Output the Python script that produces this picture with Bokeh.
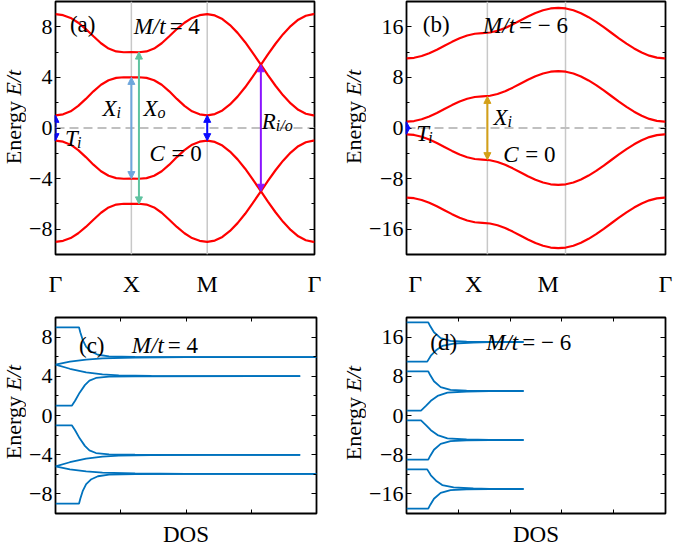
import math
from bokeh.plotting import figure
from bokeh.models import (Range1d, LinearAxis, FixedTicker, SingleIntervalTicker,
                          CustomJSTickFormatter, Span, Arrow, NormalHead, Label)
from bokeh.layouts import column, row
from bokeh.embed import file_html
from bokeh.resources import INLINE

FONT = "Liberation Serif"

# ------------------------------------------------------------------ data
# k-path coordinate: Gamma=0, X=1, M=2, Gamma=2+sqrt(2)
k_path = [0.0, 0.1, 0.2, 0.3, 0.4, 0.5, 0.6, 0.7, 0.8, 0.9, 1.0,
          1.1, 1.2, 1.3, 1.4, 1.5, 1.6, 1.7, 1.8, 1.9, 2.0,
          2.1, 2.2, 2.3, 2.4, 2.5, 2.6, 2.7, 2.8, 2.9, 3.0, 3.1, 3.2, 3.3, 3.4, 3.414]
k_labels = ["Γ", "X", "M", "Γ"]
a_label_pos = [0.0, 1.0, 2.0, 3.414]
b_label_pos = [0.116, 0.884, 1.868, 3.414]
a_sym_lines = [1.0, 2.0]
b_sym_lines = [1.066, 2.096]

# (a) M/t = 4 bands
a_band1 = [9.0, 8.92, 8.70, 8.32, 7.82, 7.25, 6.70, 6.28, 6.05, 5.99, 6.0,
           5.99, 6.05, 6.28, 6.70, 7.25, 7.82, 8.32, 8.70, 8.92, 9.0,
           8.90, 8.61, 8.14, 7.52, 6.78, 5.94, 5.06, 4.18, 3.34, 2.58, 1.94, 1.44, 1.13, 1.0, 1.0]
a_band2 = [1.0, 1.08, 1.32, 1.75, 2.30, 2.90, 3.42, 3.78, 3.96, 4.01, 4.0,
           4.01, 3.96, 3.78, 3.42, 2.90, 2.30, 1.75, 1.32, 1.08, 1.0,
           1.10, 1.39, 1.86, 2.48, 3.22, 4.06, 4.94, 5.82, 6.66, 7.42, 8.06, 8.56, 8.87, 9.0, 9.0]
a_band3 = [-1.0, -1.08, -1.32, -1.75, -2.30, -2.90, -3.42, -3.78, -3.96, -4.01, -4.0,
           -4.01, -3.96, -3.78, -3.42, -2.90, -2.30, -1.75, -1.32, -1.08, -1.0,
           -1.10, -1.39, -1.86, -2.48, -3.22, -4.06, -4.94, -5.82, -6.66, -7.42, -8.06, -8.56, -8.87, -9.0, -9.0]
a_band4 = [-9.0, -8.92, -8.70, -8.32, -7.82, -7.25, -6.70, -6.28, -6.05, -5.99, -6.0,
           -5.99, -6.05, -6.28, -6.70, -7.25, -7.82, -8.32, -8.70, -8.92, -9.0,
           -8.90, -8.61, -8.14, -7.52, -6.78, -5.94, -5.06, -4.18, -3.34, -2.58, -1.94, -1.44, -1.13, -1.0, -1.0]

# (b) M/t = -6 bands
b_band1 = [11.0, 11.10, 11.38, 11.82, 12.38, 13.0, 13.62, 14.18, 14.62, 14.90, 15.0,
           15.10, 15.38, 15.82, 16.38, 17.0, 17.62, 18.18, 18.62, 18.90, 19.0,
           18.90, 18.61, 18.14, 17.52, 16.78, 15.94, 15.06, 14.18, 13.34, 12.58, 11.94, 11.44, 11.13, 11.0, 11.0]
b_band2 = [1.0, 1.10, 1.38, 1.82, 2.38, 3.0, 3.62, 4.18, 4.62, 4.90, 5.0,
           5.10, 5.38, 5.82, 6.38, 7.0, 7.62, 8.18, 8.62, 8.90, 9.0,
           8.90, 8.61, 8.14, 7.52, 6.78, 5.94, 5.06, 4.18, 3.34, 2.58, 1.94, 1.44, 1.13, 1.0, 1.0]
b_band3 = [-1.0, -1.10, -1.38, -1.82, -2.38, -3.0, -3.62, -4.18, -4.62, -4.90, -5.0,
           -5.10, -5.38, -5.82, -6.38, -7.0, -7.62, -8.18, -8.62, -8.90, -9.0,
           -8.90, -8.61, -8.14, -7.52, -6.78, -5.94, -5.06, -4.18, -3.34, -2.58, -1.94, -1.44, -1.13, -1.0, -1.0]
b_band4 = [-11.0, -11.10, -11.38, -11.82, -12.38, -13.0, -13.62, -14.18, -14.62, -14.90, -15.0,
           -15.10, -15.38, -15.82, -16.38, -17.0, -17.62, -18.18, -18.62, -18.90, -19.0,
           -18.90, -18.61, -18.14, -17.52, -16.78, -15.94, -15.06, -14.18, -13.34, -12.58, -11.94, -11.44, -11.13, -11.0, -11.0]

# transition arrows: position on k-path and half-height (energy)
a_arrow_x = [0.0, 2.0, 1.0, 1.1, 2.707]
a_arrow_half = [1.0, 1.0, 4.0, 6.0, 5.0]
b_arrow_x = [0.0, 1.066]
b_arrow_half = [1.0, 5.0]

# (c) DOS, M/t = 4
c_x1 = [0, 0.36, 0.38, 0.42, 0.47, 0.55, 0.65, 0.82, 1.22, 2.0, 4.0]
c_e1 = [9.0, 9.0, 8.5, 7.66, 7.0, 6.5, 6.2, 6.03, 5.97, 5.95, 5.95]
c_x2 = [0, 0.22, 0.47, 0.72, 1.22, 2.0, 4.0]
c_e2 = [5.2, 5.5, 5.7, 5.82, 5.92, 5.95, 5.95]
c_x3 = [0, 0.22, 0.47, 0.72, 0.97, 1.47, 2.5, 3.75]
c_e3 = [5.2, 4.77, 4.4, 4.2, 4.1, 4.04, 4.02, 4.02]
c_x4 = [0, 0.25, 0.30, 0.37, 0.45, 0.52, 0.62, 0.82, 1.22, 3.75]
c_e4 = [1.0, 1.0, 1.5, 2.33, 3.1, 3.56, 3.83, 3.96, 4.0, 4.02]
c_e5 = [-1.0, -1.0, -1.5, -2.33, -3.1, -3.56, -3.83, -3.96, -4.0, -4.02]
c_e6 = [-5.2, -4.77, -4.4, -4.2, -4.1, -4.04, -4.02, -4.02]
c_e7 = [-5.2, -5.5, -5.7, -5.82, -5.92, -5.95, -5.95]
c_e8 = [-9.0, -9.0, -8.5, -7.66, -7.0, -6.5, -6.2, -6.03, -5.97, -5.95, -5.95]
c_ticks = [1, 2, 3]

# (d) DOS, M/t = -6
d_x1 = [0, 0.42, 0.46, 0.53, 0.66, 0.85, 1.16, 1.6, 2.26]
d_e1 = [19, 19, 18.2, 17.0, 15.8, 15.25, 15.05, 15.0, 15.0]
d_x2 = [0, 0.40, 0.47, 0.57, 0.69, 0.91, 1.29, 1.6, 2.26]
d_e2 = [11, 11, 12.2, 13.3, 14.2, 14.66, 14.9, 14.97, 15.0]
d_e3 = [9, 9, 8.2, 7.0, 5.8, 5.25, 5.05, 5.0, 5.0]
d_x4 = [0, 0.28, 0.38, 0.47, 0.60, 0.79, 1.16, 1.6, 2.26]
d_e4 = [1, 1, 2.0, 3.0, 4.0, 4.66, 4.9, 4.98, 5.0]
d_e5 = [-1, -1, -2.0, -3.0, -4.0, -4.66, -4.9, -4.98, -5.0]
d_e6 = [-9, -9, -8.2, -7.0, -5.8, -5.25, -5.05, -5.0, -5.0]
d_e7 = [-11, -11, -12.2, -13.3, -14.2, -14.66, -14.9, -14.97, -15.0]
d_e8 = [-19, -19, -18.2, -17.0, -15.8, -15.25, -15.05, -15.0, -15.0]
d_ticks = [1, 2, 3, 4]

# ------------------------------------------------------------------ styles
BAND_RED = "#ff0000"
DOS_BLUE = "#0072bd"
LINE_GREY = "#c8c8c8"
DASH_GREY = "#c0c0c0"
a_arrow_colors = ["#0a0aff", "#0a0aff", "#6ea6dc", "#5fc3a0", "#8a14ff"]
b_arrow_colors = ["#0a0aff", "#d4a017"]
TXT = "23px"
TICK = "22px"
SUB = "16px"

MINUS_FMT = "return tick < 0 ? '\u2212' + Math.abs(tick) : String(tick);"
K_FMT = ("let i = 0; let best = 1e9;"
         "for (let j = 0; j < pos.length; j++) { const d = Math.abs(pos[j] - tick);"
         " if (d < best) { best = d; i = j; } } return labels[i];")
EMPTY_FMT = "return '';"


def make_fig(xr, yr, fw, fh, bl, br, bt, bb):
    p = figure(x_range=Range1d(*xr), y_range=Range1d(*yr), frame_width=fw, frame_height=fh,
               x_axis_type=None, y_axis_type=None, output_backend="svg", toolbar_location=None,
               min_border_left=bl, min_border_right=br, min_border_top=bt, min_border_bottom=bb)
    p.outline_line_color = "black"
    p.outline_line_width = 1.8
    p.outline_line_alpha = 1.0
    p.background_fill_color = "white"
    p.border_fill_color = "white"
    return p


def tick_style(ax):
    ax.axis_line_color = None
    ax.major_tick_in = 5
    ax.major_tick_out = 0
    ax.minor_tick_in = 3
    ax.minor_tick_out = 0
    ax.major_tick_line_color = "black"
    ax.minor_tick_line_color = "black"
    ax.major_label_text_font = FONT
    ax.major_label_text_font_size = TICK
    ax.major_label_text_color = "black"


def hide_labels(ax):
    ax.formatter = CustomJSTickFormatter(code=EMPTY_FMT)
    ax.major_label_text_color = None
    ax.major_label_text_font_size = "1px"
    ax.major_label_standoff = 0


def y_axes(p, interval):
    left = LinearAxis(ticker=SingleIntervalTicker(interval=interval, num_minor_ticks=2))
    tick_style(left)
    left.formatter = CustomJSTickFormatter(code=MINUS_FMT)
    left.major_label_standoff = 3
    p.add_layout(left, "left")
    right = LinearAxis(ticker=SingleIntervalTicker(interval=interval, num_minor_ticks=2))
    tick_style(right)
    hide_labels(right)
    p.add_layout(right, "right")


def k_axis(p, pos):
    ax = LinearAxis(ticker=FixedTicker(ticks=pos, minor_ticks=[]))
    ax.formatter = CustomJSTickFormatter(args=dict(pos=pos, labels=k_labels), code=K_FMT)
    ax.axis_line_color = None
    ax.major_tick_line_color = None
    ax.minor_tick_line_color = None
    ax.major_label_text_font = FONT
    ax.major_label_text_font_size = "24px"
    ax.major_label_text_color = "black"
    ax.major_label_standoff = 10
    p.add_layout(ax, "below")


def dos_axes(p, ticks):
    for side in ("below", "above"):
        ax = LinearAxis(ticker=FixedTicker(ticks=ticks, minor_ticks=[]))
        tick_style(ax)
        ax.major_tick_in = 4
        hide_labels(ax)
        if side == "below":
            ax.axis_label = "DOS"
            ax.axis_label_text_font = FONT
            ax.axis_label_text_font_style = "normal"
            ax.axis_label_text_font_size = TXT
            ax.axis_label_text_color = "black"
            ax.axis_label_standoff = 8
        p.add_layout(ax, side)


def lab(p, x, y, text, style="normal", size=TXT, dx=0, dy=0):
    p.add_layout(Label(x=x, y=y, x_offset=dx, y_offset=dy, text=text, text_font=FONT,
                       text_font_style=style, text_font_size=size, text_color="black",
                       text_baseline="alphabetic", text_align="left"))


def energy_fig(width, yr, fh, bt, bb, x_mid, yc, size=22):
    p = figure(x_range=Range1d(0, width), y_range=Range1d(*yr), frame_width=width,
               frame_height=fh, x_axis_type=None, y_axis_type=None, output_backend="svg",
               toolbar_location=None, min_border_left=0, min_border_right=0,
               min_border_top=bt, min_border_bottom=bb)
    p.outline_line_color = None
    p.background_fill_color = "white"
    p.border_fill_color = "white"
    w_energy = 2.888 * size
    w_space = 0.25 * size
    w_et = 1.167 * size
    total = w_energy + w_space + w_et
    junction = -total / 2 + w_energy
    common = dict(x=x_mid, y=yc, angle=math.pi / 2, text_font=FONT,
                  text_font_size=f"{size}px", text_color="black", text_baseline="middle")
    p.add_layout(Label(text="Energy", y_offset=junction, text_align="right",
                       text_font_style="normal", **common))
    p.add_layout(Label(text="E/t", y_offset=junction + w_space, text_align="left",
                       text_font_style="italic", **common))
    return p


def vlines(p, xs):
    for xv in xs:
        p.add_layout(Span(location=xv, dimension="height", line_color=LINE_GREY,
                          line_width=1.5, level="underlay"))


def zero_line(p):
    p.add_layout(Span(location=0, dimension="width", line_color=DASH_GREY,
                      line_width=2.2, line_dash="9 5", level="underlay"))


def darrow(p, x, half, color, lw=2.0, size=7):
    p.add_layout(Arrow(x_start=x, y_start=-half, x_end=x, y_end=half,
                       line_color=color, line_width=lw,
                       start=NormalHead(size=size, fill_color=color, line_color=color),
                       end=NormalHead(size=size, fill_color=color, line_color=color)))


TOP_FH, TOP_T, TOP_B = 253, 1, 38
BOT_FH, BOT_T, BOT_B = 196, 18, 30
LW = 26   # width of the strips holding the rotated axis titles

# ------------------------------------------------------------------ (a)
fa = make_fig((0, k_path[-1]), (-10, 10), 259, TOP_FH, 26, 26, TOP_T, TOP_B)
y_axes(fa, 4)
k_axis(fa, a_label_pos)
vlines(fa, a_sym_lines)
zero_line(fa)
for band in (a_band1, a_band2, a_band3, a_band4):
    fa.line(k_path, band, line_color=BAND_RED, line_width=2.2)
for xv, hv, col in zip(a_arrow_x, a_arrow_half, a_arrow_colors):
    darrow(fa, xv, hv, col)
lab(fa, 0.19, 8.15, "(a)")
lab(fa, 1.03, 8.0, "M/t", "italic")
lab(fa, 1.03, 8.0, "= 4", dx=36)
lab(fa, 0.62, 1.53, "X", "italic")
lab(fa, 0.62, 1.53, "i", "italic", SUB, dx=14, dy=-4)
lab(fa, 1.16, 1.53, "X", "italic")
lab(fa, 1.16, 1.53, "o", "italic", SUB, dx=14, dy=-4)
lab(fa, 0.125, -0.82, "T", "italic")
lab(fa, 0.125, -0.82, "i", "italic", SUB, dx=12, dy=-4)
lab(fa, 1.24, -2.0, "C", "italic")
lab(fa, 1.24, -2.0, "= 0", dx=22)
lab(fa, 2.72, 0.54, "R", "italic")
lab(fa, 2.72, 0.54, "i/o", "italic", SUB, dx=14, dy=-4)
ea = energy_fig(LW, (-10, 10), TOP_FH, TOP_T, TOP_B, 13, 0.85)

# ------------------------------------------------------------------ (b)
fb = make_fig((0, k_path[-1]), (-20, 20), 259, TOP_FH, 38, 12, TOP_T, TOP_B)
y_axes(fb, 8)
k_axis(fb, b_label_pos)
vlines(fb, b_sym_lines)
zero_line(fb)
for band in (b_band1, b_band2, b_band3, b_band4):
    fb.line(k_path, band, line_color=BAND_RED, line_width=2.2)
for xv, hv, col in zip(b_arrow_x, b_arrow_half, b_arrow_colors):
    darrow(fb, xv, hv, col)
lab(fb, 0.215, 16.4, "(b)")
lab(fb, 1.01, 16.25, "M/t", "italic")
lab(fb, 1.01, 16.25, "= − 6", dx=36)
lab(fb, 1.147, 1.6, "X", "italic")
lab(fb, 1.147, 1.6, "i", "italic", SUB, dx=14, dy=-4)
lab(fb, 0.129, -0.9, "T", "italic")
lab(fb, 0.129, -0.9, "i", "italic", SUB, dx=12, dy=-4)
lab(fb, 1.275, -4.2, "C", "italic")
lab(fb, 1.275, -4.2, "= 0", dx=22)
eb = energy_fig(LW, (-20, 20), TOP_FH, TOP_T, TOP_B, 13, 1.73)

# ------------------------------------------------------------------ (c)
fc = make_fig((0, 4), (-10, 10), 261, BOT_FH, 26, 24, BOT_T, BOT_B)
y_axes(fc, 4)
dos_axes(fc, c_ticks)
for xs, es in ((c_x1, c_e1), (c_x2, c_e2), (c_x3, c_e3), (c_x4, c_e4),
               (c_x4, c_e5), (c_x3, c_e6), (c_x2, c_e7), (c_x1, c_e8)):
    fc.line(xs, es, line_color=DOS_BLUE, line_width=1.8)
lab(fc, 0.36, 7.16, "(c)")
lab(fc, 1.17, 7.16, "M/t", "italic")
lab(fc, 1.17, 7.16, "= 4", dx=36)
ec = energy_fig(LW, (-10, 10), BOT_FH, BOT_T, BOT_B, 13, 0.33)

# ------------------------------------------------------------------ (d)
fd = make_fig((0, 5), (-20, 20), 259, BOT_FH, 38, 12, BOT_T, BOT_B)
y_axes(fd, 8)
dos_axes(fd, d_ticks)
for xs, es in ((d_x1, d_e1), (d_x2, d_e2), (d_x1, d_e3), (d_x4, d_e4),
               (d_x4, d_e5), (d_x1, d_e6), (d_x2, d_e7), (d_x1, d_e8)):
    fd.line(xs, es, line_color=DOS_BLUE, line_width=1.8)
lab(fd, 0.46, 14.86, "(d)")
lab(fd, 1.54, 14.9, "M/t", "italic")
lab(fd, 1.54, 14.9, "= − 6", dx=36)
ed = energy_fig(LW, (-20, 20), BOT_FH, BOT_T, BOT_B, 13, 0.46)

layout = column(row(ea, fa, eb, fb), row(ec, fc, ed, fd))
with open("out.html", "w", encoding="utf-8") as f:
    f.write(file_html(layout, INLINE))
